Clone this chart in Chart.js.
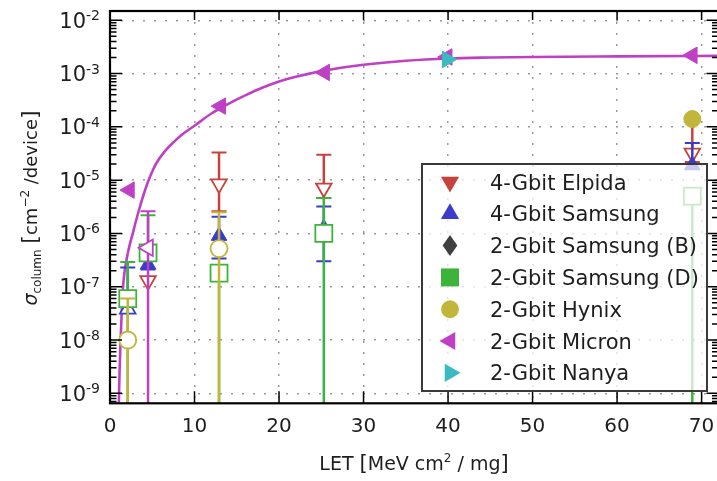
<!DOCTYPE html>
<html>
<head>
<meta charset="utf-8">
<title>Cross section vs LET</title>
<script src="https://cdn.jsdelivr.net/npm/chart.js@4.4.1/dist/chart.umd.min.js"></script>
<style>
    html, body { margin: 0; padding: 0; background: #fff; overflow: hidden; }
    #wrap { width: 722px; height: 481px; }
</style>
</head>
<body>
<div id="wrap"><canvas id="chart" width="722" height="481"></canvas></div>
<script>
// LET in MeV cm2/mg, sigma in cm^-2/device; lo/hi = error bar ends (1e-12 = runs off the axis)
const elpidaLet = [4.5, 12.9, 25.3, 68.9];
const elpidaSigma = [1.3e-7, 8.5e-6, 7.1e-6, 3.2e-5];
const elpidaLo = [null, 2.6e-6, 4.6e-6, 2.2e-5];
const elpidaHi = [null, 3.3e-5, 3.0e-5, 1.3e-4];

const samsung4Let = [2.1, 4.5, 12.9, 25.3, 68.9];
const samsung4Sigma = [3.8e-8, 2.6e-7, 9.0e-7, 1.25e-6, 1.9e-5];
const samsung4Lo = [null, 2.1e-7, 3.4e-7, 3.0e-7, null];
const samsung4Hi = [2.3e-7, 3.3e-7, 2.05e-6, 3.2e-6, 5.0e-5];

const samsungBLet = [];
const samsungBSigma = [];

const samsungDLet = [2.1, 4.5, 12.9, 25.3, 68.9];
const samsungDSigma = [6.0e-8, 4.3e-7, 1.8e-7, 1.0e-6, 5.0e-6];
const samsungDLo = [1e-12, null, 1e-12, 1e-12, 1e-12];
const samsungDHi = [2.9e-7, 2.2e-6, null, 4.6e-6, null];

const hynixLet = [2.1, 12.9, 68.9];
const hynixSigma = [1.0e-8, 5.2e-7, 1.4e-4];
const hynixLo = [1e-12, 1e-12, null];
const hynixHi = [6.0e-8, 2.5e-6, null];

const micronLet = [2.3, 4.5, 13.1, 25.4, 39.9, 68.9];
const micronSigma = [6.5e-6, 5.4e-7, 2.45e-4, 1.05e-3, 2.05e-3, 2.2e-3];
const micronLo = [null, 1e-12, null, null, null, null];
const micronHi = [null, 2.6e-6, null, null, null, null];

const nanyaLet = [39.9];
const nanyaSigma = [1.84e-3];

// fitted curve
const fitLet = [1.03, 1.07, 1.15, 1.26, 1.38, 1.5, 1.7, 2.0, 2.35, 2.7, 3.0, 3.5, 4.0, 4.5, 5.0, 5.5, 6.5, 7.5, 8.5, 10, 12, 14, 16, 18, 20, 22, 25, 30, 35, 40, 45, 50, 60, 72];
const fitSigma = [5e-10, 1e-9, 3.2e-9, 1e-8, 3.2e-8, 7.9e-8, 1.8e-7, 3.5e-7, 6.3e-7, 1e-6, 1.55e-6, 3.0e-6, 5.5e-6, 9.3e-6, 1.45e-5, 2.1e-5, 3.5e-5, 5.1e-5, 7.1e-5, 1.05e-4, 1.78e-4, 2.7e-4, 3.9e-4, 5.4e-4, 7.1e-4, 8.7e-4, 1.11e-3, 1.46e-3, 1.74e-3, 1.92e-3, 2.0e-3, 2.05e-3, 2.1e-3, 2.15e-3];

const xTickValues = [0, 10, 20, 30, 40, 50, 60, 70];
const xTickLabels = ['0', '10', '20', '30', '40', '50', '60', '70'];
const yTickValues = [1e-9, 1e-8, 1e-7, 1e-6, 1e-5, 1e-4, 1e-3, 1e-2];
const yTickExponents = ['-9', '-8', '-7', '-6', '-5', '-4', '-3', '-2'];

const FONT = '"DejaVu Sans", sans-serif';
const TEXT = '#1e1e1e';

const series = [
    { label: '4-Gbit Elpida', color: '#c8423c', marker: 'triangle', rotation: 180, radius: 9, let: elpidaLet, sigma: elpidaSigma, lo: elpidaLo, hi: elpidaHi, hollow: [0, 1, 2, 3] },
    { label: '4-Gbit Samsung', color: '#3a3ccc', marker: 'triangle', rotation: 0, radius: 9, let: samsung4Let, sigma: samsung4Sigma, lo: samsung4Lo, hi: samsung4Hi, hollow: [0] },
    { label: '2-Gbit Samsung (B)', color: '#404040', marker: 'diamond', rotation: 0, radius: 9, let: samsungBLet, sigma: samsungBSigma, lo: null, hi: null, hollow: [] },
    { label: '2-Gbit Samsung (D)', color: '#3cb43c', marker: 'rect', rotation: 0, radius: 12, let: samsungDLet, sigma: samsungDSigma, lo: samsungDLo, hi: samsungDHi, hollow: [0, 1, 2, 3, 4] },
    { label: '2-Gbit Hynix', color: '#c2b63a', marker: 'circle', rotation: 0, radius: 8.5, let: hynixLet, sigma: hynixSigma, lo: hynixLo, hi: hynixHi, hollow: [0, 1] },
    { label: '2-Gbit Micron', color: '#bf40c4', marker: 'triangle', rotation: -90, radius: 9.5, let: micronLet, sigma: micronSigma, lo: micronLo, hi: micronHi, hollow: [1] },
    { label: '2-Gbit Nanya', color: '#38bcc0', marker: 'triangle', rotation: 90, radius: 9.5, let: nanyaLet, sigma: nanyaSigma, lo: null, hi: null, hollow: [] },
];

const datasets = series.map((s, i) => ({
    label: s.label,
    data: s.let.map((l, j) => ({ x: l, y: s.sigma[j] })),
    pointStyle: s.marker === 'diamond' ? 'rectRot' : s.marker,
    pointRotation: s.rotation,
    pointRadius: s.radius,
    pointBackgroundColor: (c) => (s.hollow.includes(c.dataIndex) ? '#ffffff' : s.color),
    pointBorderColor: s.color,
    pointBorderWidth: (c) => (s.hollow.includes(c.dataIndex) ? 1.8 : 1),
    order: 10 - i,
}));

datasets.push({
    label: 'fit',
    data: fitLet.map((l, j) => ({ x: l, y: fitSigma[j] })),
    showLine: true,
    borderColor: '#bf40c4',
    borderWidth: 2.6,
    pointRadius: 0,
    cubicInterpolationMode: 'monotone',
    order: 20,
    clip: 0,
});

// vertical error bars, drawn just before each series' markers
const errorBars = {
    id: 'errorBars',
    beforeDatasetDraw(chart, args) {
        const s = series[args.index];
        if (!s || !s.lo) return;
        const { ctx, chartArea: a, scales: { x, y } } = chart;
        ctx.save();
        ctx.beginPath();
        ctx.rect(a.left, a.top, a.width, a.height);
        ctx.clip();
        ctx.strokeStyle = s.color;
        s.let.forEach((l, i) => {
            const px = x.getPixelForValue(l);
            const py = y.getPixelForValue(s.sigma[i]);
            [s.lo[i], s.hi[i]].forEach((end) => {
                if (end == null) return;
                const pe = y.getPixelForValue(end);
                ctx.lineWidth = 2.5;
                ctx.beginPath();
                ctx.moveTo(px, py);
                ctx.lineTo(px, pe);
                ctx.stroke();
                ctx.lineWidth = 2;
                ctx.beginPath();
                ctx.moveTo(px - 7.5, pe);
                ctx.lineTo(px + 7.5, pe);
                ctx.stroke();
            });
        });
        ctx.restore();
    },
};

function markerPath(ctx, marker, rotation, r, cx, cy) {
    ctx.beginPath();
    if (marker === 'triangle') {
        let rad = rotation * Math.PI / 180;
        for (let k = 0; k < 3; k++) {
            const px = cx + Math.sin(rad) * r;
            const py = cy - Math.cos(rad) * r;
            if (k === 0) ctx.moveTo(px, py); else ctx.lineTo(px, py);
            rad += 2 * Math.PI / 3;
        }
        ctx.closePath();
    } else if (marker === 'rect') {
        ctx.rect(cx - r * 0.72, cy - r * 0.72, r * 1.44, r * 1.44);
    } else if (marker === 'circle') {
        ctx.arc(cx, cy, r * 0.85, 0, Math.PI * 2);
    } else if (marker === 'diamond') {
        ctx.moveTo(cx, cy - r);
        ctx.lineTo(cx + r * 0.7, cy);
        ctx.lineTo(cx, cy + r);
        ctx.lineTo(cx - r * 0.7, cy);
        ctx.closePath();
    }
}

function drawRuns(ctx, runs, x0, y0) {
    let x = x0;
    runs.forEach((r) => {
        ctx.font = r.font;
        ctx.fillText(r.t, x, y0 + (r.dy || 0));
        x += ctx.measureText(r.t).width;
    });
}

function runsWidth(ctx, runs) {
    return runs.reduce((w, r) => {
        ctx.font = r.font;
        return w + ctx.measureText(r.t).width;
    }, 0);
}

const frameAndText = {
    id: 'frameAndText',
    afterDatasetsDraw(chart) {
        const { ctx, chartArea: a, scales: { x, y } } = chart;
        ctx.save();

        // tick marks (inside) on all four spines
        ctx.strokeStyle = '#000';
        ctx.lineWidth = 1.5;
        ctx.beginPath();
        for (let e = -10; e <= -2; e++) {
            for (let k = 1; k <= 9; k++) {
                const v = k * Math.pow(10, e);
                if (v < y.min || v > y.max) continue;
                const py = y.getPixelForValue(v);
                const len = k === 1 ? 12 : 6.5;
                ctx.moveTo(a.left, py); ctx.lineTo(a.left + len, py);
                ctx.moveTo(a.right, py); ctx.lineTo(a.right - len, py);
            }
        }
        xTickValues.forEach((v) => {
            const px = x.getPixelForValue(v);
            ctx.moveTo(px, a.bottom); ctx.lineTo(px, a.bottom - 12);
            ctx.moveTo(px, a.top); ctx.lineTo(px, a.top + 9);
        });
        ctx.stroke();

        ctx.lineWidth = 2.2;
        ctx.strokeRect(a.left, a.top, a.width, a.height);

        // legend
        const bx = 422, by = 164, bw = 285, bh = 227;
        ctx.fillStyle = 'rgba(255,255,255,0.72)';
        ctx.fillRect(bx, by, bw, bh);
        ctx.strokeStyle = '#3a3a3a';
        ctx.lineWidth = 2;
        ctx.strokeRect(bx, by, bw, bh);
        series.forEach((s, i) => {
            const cy = by + 18 + i * 31.8;
            markerPath(ctx, s.marker, s.rotation, s.marker === 'rect' ? 12.5 : 10.5, bx + 28, cy);
            ctx.fillStyle = s.color;
            ctx.fill();
            ctx.fillStyle = TEXT;
            ctx.font = `21px ${FONT}`;
            ctx.textAlign = 'left';
            ctx.textBaseline = 'alphabetic';
            ctx.fillText(s.label, bx + 68, cy + 7.5);
        });

        // tick labels
        ctx.fillStyle = TEXT;
        ctx.textAlign = 'left';
        ctx.textBaseline = 'alphabetic';
        yTickValues.forEach((v, i) => {
            const py = y.getPixelForValue(v);
            ctx.font = `14px ${FONT}`;
            const sw = ctx.measureText(yTickExponents[i]).width;
            ctx.fillText(yTickExponents[i], a.left - 10 - sw, py);
            ctx.font = `21px ${FONT}`;
            const bw2 = ctx.measureText('10').width;
            ctx.fillText('10', a.left - 10 - sw - bw2, py + 7.5);
        });
        ctx.font = `20px ${FONT}`;
        ctx.textAlign = 'center';
        xTickValues.forEach((v, i) => {
            ctx.fillText(xTickLabels[i], x.getPixelForValue(v), a.bottom + 29);
        });

        // axis titles
        ctx.textAlign = 'left';
        const xRuns = [
            { t: 'LET ', font: `19px ${FONT}` },
            { t: '[', font: `21px ${FONT}` },
            { t: 'MeV cm', font: `19px ${FONT}` },
            { t: '2', font: `12px ${FONT}`, dy: -8 },
            { t: ' / mg', font: `19px ${FONT}` },
            { t: ']', font: `21px ${FONT}` },
        ];
        drawRuns(ctx, xRuns, 414 - runsWidth(ctx, xRuns) / 2, 470);

        const yRuns = [
            { t: 'σ', font: `italic 19px ${FONT}` },
            { t: 'column', font: `12px ${FONT}`, dy: 4 },
            { t: ' ', font: `18px ${FONT}` },
            { t: '[', font: `22px ${FONT}` },
            { t: 'cm', font: `18px ${FONT}` },
            { t: '−2', font: `12px ${FONT}`, dy: -8 },
            { t: ' /device', font: `18px ${FONT}` },
            { t: ']', font: `22px ${FONT}` },
        ];
        ctx.translate(37, 208);
        ctx.rotate(-Math.PI / 2);
        drawRuns(ctx, yRuns, -runsWidth(ctx, yRuns) / 2, 0);
        ctx.restore();
    },
};

new Chart(document.getElementById('chart'), {
    type: 'scatter',
    data: { datasets },
    options: {
        responsive: false,
        animation: false,
        events: [],
        layout: { autoPadding: false, padding: { left: 110, top: 11, right: 3.5, bottom: 77.7 } },
        plugins: { legend: { display: false }, tooltip: { enabled: false } },
        scales: {
            x: {
                type: 'linear',
                min: 0,
                max: 72,
                afterBuildTicks: (scale) => { scale.ticks = xTickValues.map((v) => ({ value: v })); },
                ticks: { display: false },
                grid: { color: '#9a9a9a', lineWidth: 1.5, drawTicks: false },
                border: { display: false, dash: [2, 9] },
            },
            y: {
                type: 'logarithmic',
                min: 6.49e-10,
                max: 0.01493,
                afterBuildTicks: (scale) => { scale.ticks = yTickValues.map((v) => ({ value: v })); },
                ticks: { display: false },
                grid: { color: '#9a9a9a', lineWidth: 1.5, drawTicks: false },
                border: { display: false, dash: [2, 9] },
            },
        },
    },
    plugins: [errorBars, frameAndText],
});
</script>
</body>
</html>
